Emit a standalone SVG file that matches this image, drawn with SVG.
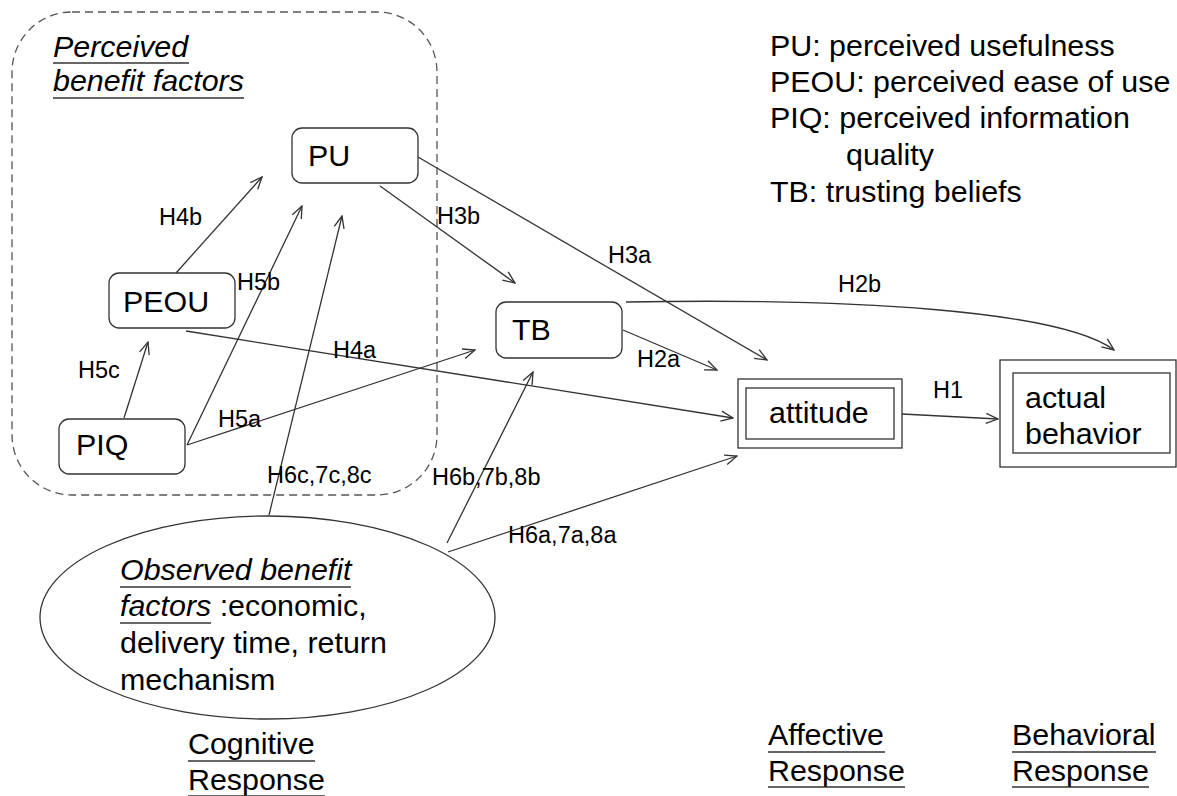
<svg xmlns="http://www.w3.org/2000/svg" width="1177" height="796" viewBox="0 0 1177 796">
<style>
text{font-family:"Liberation Sans",Arial,sans-serif;fill:#000}
.t{font-size:30.4px}
.l{font-size:23.5px}
.box{fill:#fff;stroke:#333;stroke-width:1.3}
.c{fill:none;stroke:#333;stroke-width:1.3;marker-end:url(#arr)}
.u{stroke:#333;stroke-width:1.5}
</style>
<defs>
<marker id="arr" markerWidth="14" markerHeight="14" refX="13" refY="6" orient="auto" markerUnits="userSpaceOnUse">
<path d="M1,1 L13,6 L1,11" fill="none" stroke="#333" stroke-width="1.3"/>
</marker>
</defs>
<rect width="1177" height="796" fill="#fff"/>
<g id="group-perceived">
<rect x="12" y="12" width="425" height="483" rx="60" ry="60" fill="none" stroke="#555" stroke-width="1.3" stroke-dasharray="8,5"/>
<text class="t" x="53" y="57" font-style="italic">Perceived</text>
<line class="u" x1="53" y1="63" x2="189" y2="63"/>
<text class="t" x="53" y="91" font-style="italic">benefit factors</text>
<line class="u" x1="53" y1="98" x2="244" y2="98"/>
</g>
<g id="legend">
<text class="t" x="770" y="56">PU: perceived usefulness</text>
<text class="t" x="770" y="92">PEOU: perceived ease of use</text>
<text class="t" x="770" y="128">PIQ: perceived information</text>
<text class="t" x="846" y="165">quality</text>
<text class="t" x="770" y="202">TB: trusting beliefs</text>
</g>
<g id="connectors">
<path class="c" d="M176,273 L262,177"/>
<path class="c" d="M187,445 L302,206"/>
<path class="c" d="M269,515 L342,216"/>
<path class="c" d="M124,418 L148,342"/>
<path class="c" d="M186,331 L733,418"/>
<path class="c" d="M187,445 L475,350"/>
<path class="c" d="M380,186 L515,283"/>
<path class="c" d="M418,157 L767,360"/>
<path class="c" d="M623,330 L717,370"/>
<path class="c" d="M626,302 C850,298 1060,310 1114,350"/>
<path class="c" d="M902,414 L998,419"/>
<path class="c" d="M447,543 L533,372"/>
<path class="c" d="M448,552 L737,456"/>
<text class="l" x="159" y="225">H4b</text>
<text class="l" x="237" y="290">H5b</text>
<text class="l" x="78" y="378">H5c</text>
<text class="l" x="333" y="358">H4a</text>
<text class="l" x="218" y="427">H5a</text>
<text class="l" x="267" y="483">H6c,7c,8c</text>
<text class="l" x="437" y="224">H3b</text>
<text class="l" x="608" y="263">H3a</text>
<text class="l" x="637" y="367">H2a</text>
<text class="l" x="838" y="292">H2b</text>
<text class="l" x="933" y="398">H1</text>
<text class="l" x="432" y="485">H6b,7b,8b</text>
<text class="l" x="508" y="543">H6a,7a,8a</text>
</g>
<g id="node-PU">
<rect class="box" x="292" y="128" width="126" height="55" rx="10"/>
<text class="t" x="308" y="166">PU</text>
</g>
<g id="node-PEOU">
<rect class="box" x="109" y="273" width="126" height="55" rx="10"/>
<text class="t" x="123" y="312">PEOU</text>
</g>
<g id="node-PIQ">
<rect class="box" x="59" y="419" width="126" height="55" rx="10"/>
<text class="t" x="76" y="455">PIQ</text>
</g>
<g id="node-TB">
<rect class="box" x="496" y="302" width="126" height="56" rx="10"/>
<text class="t" x="512" y="340">TB</text>
</g>
<g id="node-attitude">
<rect class="box" x="738" y="379" width="164" height="69"/>
<rect class="box" x="746" y="388" width="148" height="51"/>
<text class="t" x="769" y="423">attitude</text>
</g>
<g id="node-behavior">
<rect class="box" x="1000" y="360" width="176" height="107"/>
<rect class="box" x="1013" y="373" width="157" height="80"/>
<text class="t" x="1025" y="408">actual</text>
<text class="t" x="1025" y="444">behavior</text>
</g>
<g id="node-observed">
<ellipse cx="267.5" cy="617.5" rx="227.5" ry="101.5" fill="#fff" stroke="#333" stroke-width="1.3"/>
<text class="t" x="120" y="580" font-style="italic">Observed benefit</text>
<line class="u" x1="120" y1="587" x2="351" y2="587"/>
<text class="t" x="120" y="616"><tspan font-style="italic">factors</tspan> :economic,</text>
<line class="u" x1="120" y1="623" x2="211" y2="623"/>
<text class="t" x="120" y="653">delivery time, return</text>
<text class="t" x="120" y="690">mechanism</text>
</g>
<g id="labels-response">
<text class="t" x="188" y="754">Cognitive</text>
<line class="u" x1="188" y1="761" x2="315" y2="761"/>
<text class="t" x="188" y="790">Response</text>
<line class="u" x1="188" y1="796" x2="325" y2="796"/>
<text class="t" x="768" y="745">Affective</text>
<line class="u" x1="768" y1="752" x2="885" y2="752"/>
<text class="t" x="768" y="781">Response</text>
<line class="u" x1="768" y1="787" x2="905" y2="787"/>
<text class="t" x="1012" y="745">Behavioral</text>
<line class="u" x1="1012" y1="752" x2="1156" y2="752"/>
<text class="t" x="1012" y="781">Response</text>
<line class="u" x1="1012" y1="787" x2="1149" y2="787"/>
</g>
</svg>
